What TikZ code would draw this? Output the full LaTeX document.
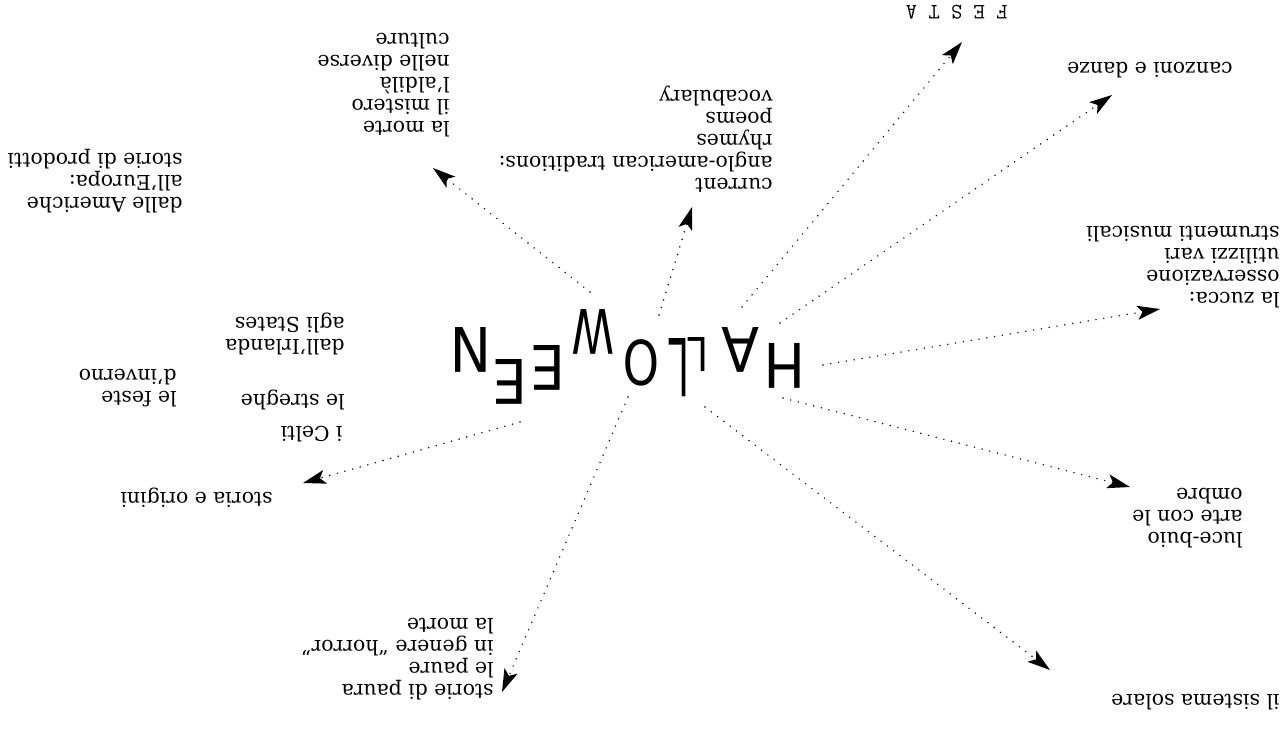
\documentclass[tikz,border=0pt]{standalone}
\usepackage{fontspec}
\usetikzlibrary{arrows.meta}
\setmainfont{DejaVu Serif}
\newfontfamily\wordfont{DejaVu Sans}

\tikzset{
  lbl/.style={rotate=180, anchor=north west, align=left, inner sep=0pt,
    font=\fontsize{11.6}{12.5}\selectfont},
  letter/.style={rotate=180, inner sep=0pt, font=\wordfont\fontsize{35}{35}\selectfont},
  link/.style={line width=0.9pt, dash pattern=on 0pt off 4.5pt, line cap=round,
    -{Stealth[length=13pt,width=8pt,inset=3pt]}}
}

\begin{document}
\begin{tikzpicture}[x=0.02cm, y=-0.02cm]
  \useasboundingbox (0,0) rectangle (1283,734);
  % the word, upside down
  \node[letter, xscale=0.9] (h) at (785,366) {H};
  \node[letter, xscale=0.9] (a) at (741,350) {A};
  \node[letter, xscale=0.6, yscale=0.76] (l1) at (698,355) {L};
  \node[letter, xscale=0.6, yscale=1.3] (l2) at (679,368) {L};
  \node[letter, xscale=0.75] (o) at (641,363) {O};
  \node[letter, xscale=0.7] (w) at (593,332) {W};
  \node[letter, xscale=0.9] (e1) at (548,368) {E};
  \node[letter, xscale=0.9] (e2) at (510,382) {E};
  \node[letter, xscale=0.9] (n) at (471,350) {N};
  % labels round the word
  \node[lbl] (prodotti) at (183,213) {dalle Americhe\\all'Europa:\\storie di prodotti};
  \node[lbl] (morte) at (450,137) {la morte\\il mistero\\l'aldilà\\nelle diverse\\culture};
  \node[lbl] (current) at (773,193) {current\\anglo-american traditions:\\rhymes\\poems\\vocabulary};
  \node[lbl, font=\ttfamily\fontsize{12.5}{12.5}\selectfont] (festa) at (1008,20) {F E S T A};
  \node[lbl] (canzoni) at (1233,78) {canzoni e danze};
  \node[lbl] (zucca) at (1280,308) {la zucca:\\osservazione\\utilizzi vari\\strumenti musicali};
  \node[lbl] (luce) at (1243,548) {luce-buio\\arte con le\\ombre};
  \node[lbl] (sistema) at (1280,710) {il sistema solare};
  \node[lbl] (paura) at (494,700) {storie di paura\\le paure\\in genere ``horror''\\la morte};
  \node[lbl] (origini) at (273,508) {storia e origini};
  % notes under storia e origini
  \node[lbl] (celti) at (343,442) {i Celti};
  \node[lbl] (streghe) at (345,410) {le streghe};
  \node[lbl] (feste) at (177,407) {le feste\\d'inverno};
  \node[lbl] (irlanda) at (345,355) {dall'Irlanda\\agli States};
  % arrow ends
  \coordinate (s-morte) at (590,292);   \coordinate (t-morte) at (433,168);
  \coordinate (s-current) at (659,315); \coordinate (t-current) at (692,207);
  \coordinate (s-festa) at (742,307);   \coordinate (t-festa) at (962,42);
  \coordinate (s-canzoni) at (780,323); \coordinate (t-canzoni) at (1112,95);
  \coordinate (s-zucca) at (823,365);   \coordinate (t-zucca) at (1160,309);
  \coordinate (s-luce) at (783,398);    \coordinate (t-luce) at (1130,487);
  \coordinate (s-sistema) at (705,407); \coordinate (t-sistema) at (1050,670);
  \coordinate (s-paura) at (628,397);   \coordinate (t-paura) at (502,692);
  \coordinate (s-origini) at (520,422); \coordinate (t-origini) at (303,483);
  % dotted arrows
  \draw[link] (s-morte) -- (t-morte);
  \draw[link] (s-current) -- (t-current);
  \draw[link] (s-festa) -- (t-festa);
  \draw[link] (s-canzoni) -- (t-canzoni);
  \draw[link] (s-zucca) -- (t-zucca);
  \draw[link] (s-luce) -- (t-luce);
  \draw[link] (s-sistema) -- (t-sistema);
  \draw[link] (s-paura) -- (t-paura);
  \draw[link] (s-origini) -- (t-origini);
\end{tikzpicture}
\end{document}
